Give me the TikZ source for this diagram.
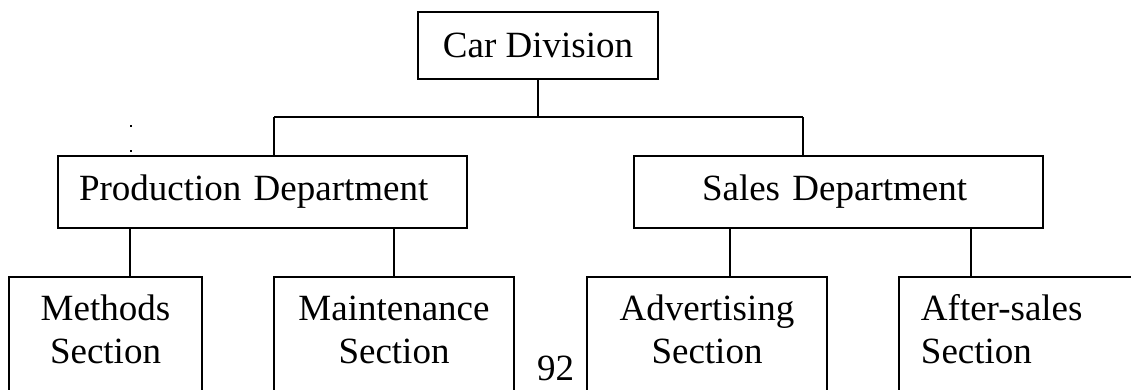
\documentclass[tikz,border=0pt]{standalone}
\usepackage{fontspec}
\setmainfont{Liberation Serif}
\begin{document}
\begin{tikzpicture}[x=1pt,y=-1pt,line width=1.9pt,
  font=\fontsize{37}{43}\selectfont,
  unit/.style={draw,inner sep=0pt},
  topunit/.style={unit,minimum height=67pt},
  dept/.style={unit,minimum height=72pt,align=left},
  section/.style={unit,anchor=north,align=center,text height=44pt,text depth=100pt},
  wire/.style={draw},
  speck/.style={rectangle,fill,inner sep=0pt,minimum size=2.2pt}]
  \useasboundingbox (0,0) rectangle (1131,389);
  \fill[white] (0,0) rectangle (1131,389);
  \clip (0,0) rectangle (1131,389);

  % top of the hierarchy
  \node[topunit,minimum width=240pt] (car) at (538,45.5) {Car Division};

  % departments
  \node[dept,inner xsep=21pt,text width=367pt] (prod) at (262.5,192) {Production Department};
  \node[dept,inner xsep=68pt,text width=273pt] (sales) at (838.5,192) {Sales Department};

  % sections (their lower edges run off the page)
  \node[section,text width=193pt] (methods) at (105.5,276) {Methods\\Section};
  \node[section,text width=240pt] (maint) at (394,276) {Maintenance\\Section};
  \node[section,text width=240pt] (advert) at (707,276) {Advertising\\Section};
  \node[section,anchor=north west,align=left,inner xsep=22pt,text width=218pt] (after) at (898,276) {After-sales\\Section};

  % page number and stray specks
  \node[anchor=base,inner sep=0pt] (pagenum) at (555.5,380) {92};
  \node[speck] (speckA) at (131,126) {};
  \node[speck] (speckB) at (131,151) {};

  % bus and drop points
  \coordinate (busL) at (274,117);
  \coordinate (busR) at (803,117);
  \coordinate (dropM) at (130,0);
  \coordinate (dropN) at (394,0);
  \coordinate (dropA) at (730,0);
  \coordinate (dropS) at (971,0);

  \draw[wire] (car.south) -- (car.south |- busL);
  \draw[wire] (busL) -- (busR);
  \draw[wire] (busL) -- (busL |- prod.north);
  \draw[wire] (busR) -- (busR |- sales.north);

  \draw[wire] (prod.south -| dropM) -- (methods.north -| dropM);
  \draw[wire] (prod.south -| dropN) -- (maint.north -| dropN);
  \draw[wire] (sales.south -| dropA) -- (advert.north -| dropA);
  \draw[wire] (sales.south -| dropS) -- (after.north -| dropS);
\end{tikzpicture}
\end{document}
